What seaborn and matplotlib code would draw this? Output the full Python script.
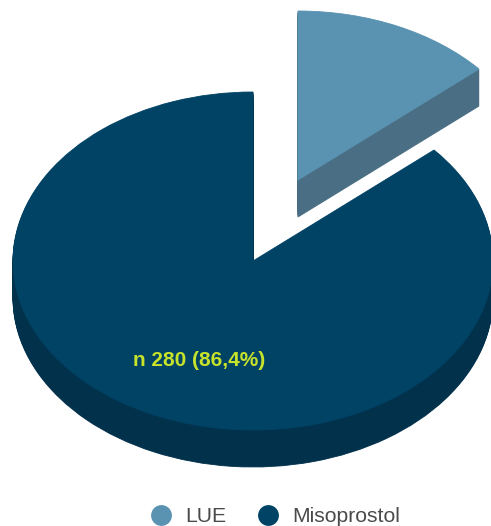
import matplotlib
matplotlib.use("Agg")
import matplotlib.pyplot as plt
from matplotlib.lines import Line2D
import numpy as np
import seaborn as sns

categories = ["LUE", "Misoprostol"]
shares = [13.6, 86.4]
annotation = "n 280 (86,4%)"

top_colors = sns.color_palette(["#5a93b2", "#004365"])
side_colors = sns.color_palette(["#4a6e84", "#02314c"])
text_grey = "#4a4a4a"
label_yellow = "#c6e22a"

sns.set_theme(style="white")
plt.rcParams["font.family"] = ["Liberation Sans", "DejaVu Sans"]

W, H = 491, 526
RX, RY = 240.0, 169.0          # ellipse radii in pixels
CX, CY = 253.0, 261.0          # centre of the main pie in pixels
DEPTH = 37.0 / RY              # extrusion height in axis units
EXPLODE = (45.0 / RX, 81.0 / RY)
START = 90

fig = plt.figure(figsize=(W / 100, H / 100), dpi=100)
ax = fig.add_axes([0, 0, 1, 1])


def layer(center, slice_index, color):
    """Draw one wedge of the pie at the given centre, hiding the other one."""
    wedges, _ = ax.pie(shares, colors=[color, color], center=center, radius=1.0,
                       startangle=START, counterclock=False,
                       wedgeprops={"linewidth": 0.6, "edgecolor": color})
    wedges[1 - slice_index].set_visible(False)


# Stacked copies of each wedge build the extruded side, the face goes on top.
offsets = np.arange(DEPTH, 0, -1.0 / RY)

for d in offsets:
    layer((0, -d), 1, side_colors[1])
layer((0, 0), 1, top_colors[1])

for d in offsets:
    layer((EXPLODE[0], EXPLODE[1] - d), 0, side_colors[0])
layer(EXPLODE, 0, top_colors[0])

ax.set_aspect("auto")
ax.set_xlim(-CX / RX, (W - CX) / RX)
ax.set_ylim((CY - H) / RY, CY / RY)
ax.axis("off")

ax.text((199 - CX) / RX, (CY - 361) / RY, annotation, color=label_yellow,
        fontsize=15, fontweight="bold", ha="center", va="center")

handles = [Line2D([], [], linestyle="none", marker="o", markersize=15,
                  markerfacecolor=c, markeredgecolor="none") for c in top_colors]
ax.legend(handles, categories, ncol=2, frameon=False, fontsize=15.2,
          labelcolor=text_grey, loc="center", bbox_to_anchor=(270 / W, 1 - 517 / H),
          bbox_transform=fig.transFigure, columnspacing=0.95, handletextpad=0.15,
          borderpad=0, borderaxespad=0)

fig.savefig("out.png", dpi=100, facecolor="white")
